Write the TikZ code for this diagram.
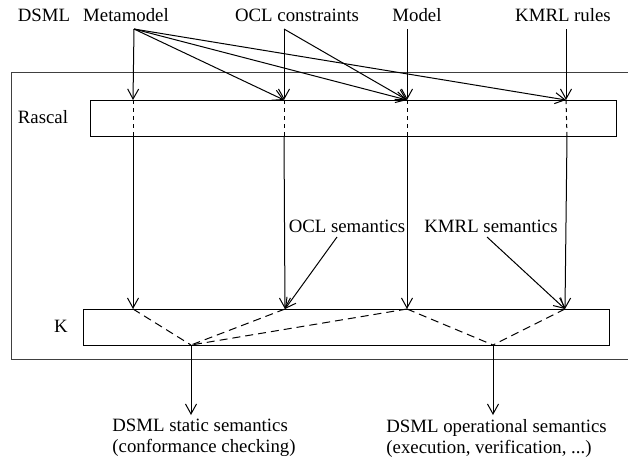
\documentclass[tikz,border=0pt]{standalone}
\usepackage{fontspec}
\setmainfont{Liberation Serif}
\usetikzlibrary{arrows.meta}
\tikzset{
	lbl/.style={inner sep=0pt, font=\fontsize{9.4}{10.5}\selectfont},
	arr/.style={-{Straight Barb[length=5pt,width=5.5pt]}, line width=0.5pt},
	box/.style={draw, line width=0.5pt},
	thru/.style={line width=0.5pt, dash pattern=on 2pt off 2pt},
	fanin/.style={line width=0.5pt, dash pattern=on 4pt off 2.5pt}
}

\begin{document}
\begin{tikzpicture}[x=0.5pt,y=-0.5pt]
	%%%%% START %%%%%
	\useasboundingbox (0,0) rectangle (628,462);
	
	% outer frame (open on the right)
	\draw[line width=0.5pt, color=black!75] (628,72) -- (11,72) -- (11,359) -- (628,359);
	
	% inputs
	\node[lbl, anchor=base] (dsml) at (44,21) {DSML};
	\node[lbl, anchor=base] (metamodel) at (126,21) {Metamodel};
	\node[lbl, anchor=base] (ocl) at (297,21) {OCL constraints};
	\node[lbl, anchor=base] (model) at (417,21) {Model};
	\node[lbl, anchor=base] (kmrl) at (563,21) {KMRL rules};
	
	\coordinate (mmS) at (134,29);
	\coordinate (oclS) at (284,29);
	\coordinate (modS) at (407,29);
	\coordinate (kmS) at (566,29);
	
	% Rascal
	\node[lbl, anchor=base] (rascal) at (43,123) {Rascal};
	\draw[box] (90,100) rectangle (616,136);
	\coordinate (rA) at (133,100);
	\coordinate (rB) at (284,100);
	\coordinate (rC) at (407,100);
	\coordinate (rD) at (566,100);
	\coordinate (rAb) at (133,136);
	\coordinate (rBb) at (284,136);
	\coordinate (rCb) at (407,136);
	\coordinate (rDb) at (567,136);
	
	\draw[arr] (mmS) -- (rA);
	\draw[arr] (mmS) -- (rB);
	\draw[arr] (mmS) -- (rC);
	\draw[arr] (mmS) -- (rD);
	\draw[arr] (oclS) -- (rB);
	\draw[arr] (oclS) -- (rC);
	\draw[arr] (modS) -- (rC);
	\draw[arr] (kmS) -- (rD);
	
	\draw[thru] (rA) -- (rAb);
	\draw[thru] (rB) -- (rBb);
	\draw[thru] (rC) -- (rCb);
	\draw[thru] (rD) -- (rDb);
	
	% K
	\node[lbl, anchor=base] (k) at (61,332) {K};
	\draw[box] (83,309) rectangle (609,345);
	\coordinate (kA) at (133,309);
	\coordinate (kB) at (285,309);
	\coordinate (kC) at (407,309);
	\coordinate (kD) at (565,309);
	\coordinate (kS) at (191,345);
	\coordinate (kO) at (493,345);
	
	\draw[arr] (rAb) -- (kA);
	\draw[arr] (rBb) -- (kB);
	\draw[arr] (rCb) -- (kC);
	\draw[arr] (rDb) -- (kD);
	
	\node[lbl, anchor=base] (oclsem) at (347,232) {OCL semantics};
	\node[lbl, anchor=base] (kmrlsem) at (491,232) {KMRL semantics};
	\coordinate (oclsemS) at (337,237);
	\coordinate (kmrlsemS) at (487,237);
	\draw[arr] (oclsemS) -- (kB);
	\draw[arr] (kmrlsemS) -- (kD);
	
	\draw[fanin] (kA) -- (kS);
	\draw[fanin] (kB) -- (kS);
	\draw[fanin] (kC) -- (kS);
	\draw[fanin] (kC) -- (kO);
	\draw[fanin] (kD) -- (kO);
	
	% outputs
	\node[lbl, anchor=north west, align=left] (static) at (112,419) {DSML static semantics\\(conformance checking)};
	\node[lbl, anchor=north west, align=left] (oper) at (386,419) {DSML operational semantics\\(execution, verification, ...)};
	\draw[arr] (kS) -- ([yshift=2pt]kS |- static.north);
	\draw[arr] (kO) -- ([yshift=2pt]kO |- oper.north);
	%%%%% END %%%%%
\end{tikzpicture}
\end{document}
